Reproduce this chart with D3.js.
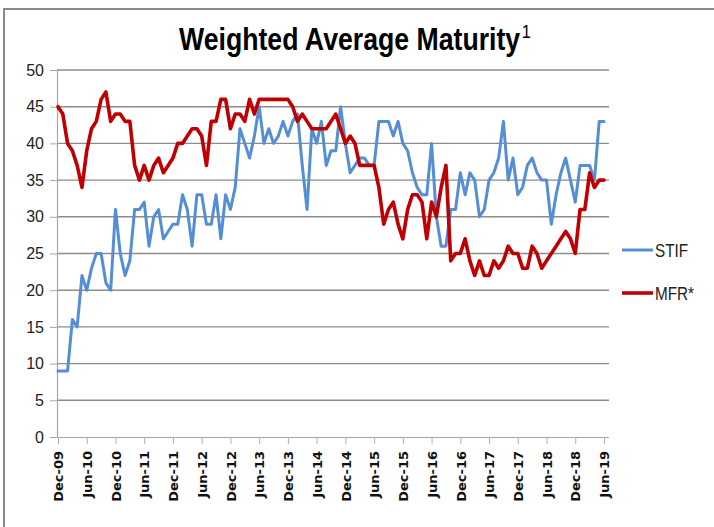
<!DOCTYPE html>
<meta charset="utf-8">
<script src="https://d3js.org/d3.v7.min.js"></script>
<style>
  body { margin: 0; background: #fff; }
  .narrow { font-family: "Liberation Sans Narrow", "Arial Narrow", "Liberation Sans", sans-serif; }
</style>
<div id="my_dataviz"></div>
<script>

// monthly values, Dec-09 .. Jun-19
var stif = [
  9,9,9,16,15,22,20,23,25,25,
  21,20,31,25,22,24,31,31,32,26,
  30,31,27,28,29,29,33,31,26,33,
  33,29,29,33,27,33,31,34,42,40,
  38,41,45,40,42,40,41,43,41,43,
  44,37,31,42,40,43,37,39,39,45,
  40,36,37,38,38,37,37,43,43,43,
  41,43,40,39,36,34,33,33,40,30,
  26,26,31,31,36,33,36,35,30,31,
  35,36,38,43,35,38,33,34,37,38,
  36,35,35,29,33,36,38,35,32,37,
  37,37,35,43,43
];
var mfr = [
  45,44,40,39,37,34,39,42,43,46,
  47,43,44,44,43,43,37,35,37,35,
  37,38,36,37,38,40,40,41,42,42,
  41,37,43,43,46,46,42,44,44,43,
  46,44,46,46,46,46,46,46,46,45,
  43,44,43,42,42,42,42,43,44,42,
  40,41,40,37,37,37,37,34,29,31,
  32,29,27,31,33,33,32,27,32,30,
  34,37,24,25,25,27,24,22,24,22,
  22,24,23,24,26,25,25,23,23,26,
  25,23,24,25,26,27,28,27,25,31,
  31,36,34,35,35
];
var tickLabels = ["Dec-09","Jun-10","Dec-10","Jun-11","Dec-11","Jun-12","Dec-12",
  "Jun-13","Dec-13","Jun-14","Dec-14","Jun-15","Dec-15","Jun-16","Dec-16",
  "Jun-17","Dec-17","Jun-18","Dec-18","Jun-19"];
var yTicks = [0,5,10,15,20,25,30,35,40,45,50];
var seriesNames = ["STIF", "MFR*"];
var colors = ["#558ED5", "#C00000"];

var W = 714, H = 527;
var svg = d3.select("#my_dataviz").append("svg")
  .attr("width", W).attr("height", H);

// outer frame
svg.append("path")
  .attr("d", "M4," + H + " L4,9 L" + W + ",9")
  .attr("fill", "none").attr("stroke", "#8a8a8a").attr("stroke-width", 2);

var plotL = 57, plotR = 609;
var x = d3.scaleLinear().domain([0, stif.length - 1]).range([58, 604]);
var y = d3.scaleLinear().domain([0, 50]).range([437, 70]);

// gridlines
svg.append("g").selectAll("line")
  .data(yTicks.filter(function(d){ return d > 0; }))
  .enter().append("line")
    .attr("x1", plotL).attr("x2", plotR)
    .attr("y1", function(d){ return y(d); }).attr("y2", function(d){ return y(d); })
    .attr("stroke", "#8c8c8c").attr("stroke-width", 1.4);

// Y axis
var yAxis = svg.append("g")
  .attr("transform", "translate(" + plotL + ",0)")
  .call(d3.axisLeft(y).tickValues(yTicks).tickSize(7).tickPadding(6));
yAxis.select(".domain").attr("stroke", "#a6a6a6").attr("stroke-width", 1.2);
yAxis.selectAll(".tick line").attr("stroke", "#a6a6a6");
yAxis.selectAll("text")
  .attr("class", "narrow")
  .style("font-size", "16px").attr("fill", "#222");

// X axis
var tickIdx = tickLabels.map(function(d, i){ return i * 6; });
var xAxis = svg.append("g")
  .attr("transform", "translate(0," + y(0) + ")")
  .call(d3.axisBottom(x).tickValues(tickIdx)
    .tickFormat(function(d, i){ return tickLabels[i]; })
    .tickSize(7).tickSizeOuter(0));
xAxis.select(".domain")
  .attr("d", "M" + plotL + ",0.5H" + plotR)
  .attr("stroke", "#a6a6a6").attr("stroke-width", 1.2);
xAxis.selectAll(".tick line").attr("stroke", "#b0b0b0");
xAxis.selectAll("text")
  .attr("transform", "rotate(-90)")
  .attr("text-anchor", "end")
  .attr("x", -14).attr("y", 0).attr("dy", "0.36em")
  .style("font-family", "'DejaVu Sans', sans-serif")
  .style("font-weight", "bold")
  .style("font-size", "13px")
  .attr("fill", "#111");

// lines
var line = d3.line()
  .x(function(d, i){ return x(i); })
  .y(function(d){ return y(d); });

[stif, mfr].forEach(function(s, k) {
  svg.append("path")
    .datum(s)
    .attr("fill", "none")
    .attr("stroke", colors[k])
    .attr("stroke-width", k === 0 ? 3 : 3.6)
    .attr("stroke-linejoin", "round")
    .attr("stroke-linecap", "round")
    .attr("d", line);
});

// title with superscript, squeezed horizontally to look condensed
var title = svg.append("g")
  .attr("transform", "translate(179,50) scale(0.86,1)")
  .append("text")
  .attr("class", "narrow")
  .attr("fill", "#000");
title.append("tspan")
  .style("font-size", "31px").style("font-weight", "bold")
  .text("Weighted Average Maturity");
title.append("tspan")
  .attr("dx", 2).attr("dy", -12)
  .style("font-size", "19px")
  .text("1");

// legend
var legY = [250, 293];
seriesNames.forEach(function(name, k) {
  svg.append("line")
    .attr("x1", 622).attr("x2", 653)
    .attr("y1", legY[k]).attr("y2", legY[k])
    .attr("stroke", colors[k]).attr("stroke-width", k === 0 ? 3 : 3.6);
  svg.append("g")
    .attr("transform", "translate(655," + (legY[k] + 7) + ") scale(0.85,1)")
    .append("text")
    .attr("class", "narrow")
    .style("font-size", "18px")
    .attr("fill", "#222")
    .text(name);
});

</script>
